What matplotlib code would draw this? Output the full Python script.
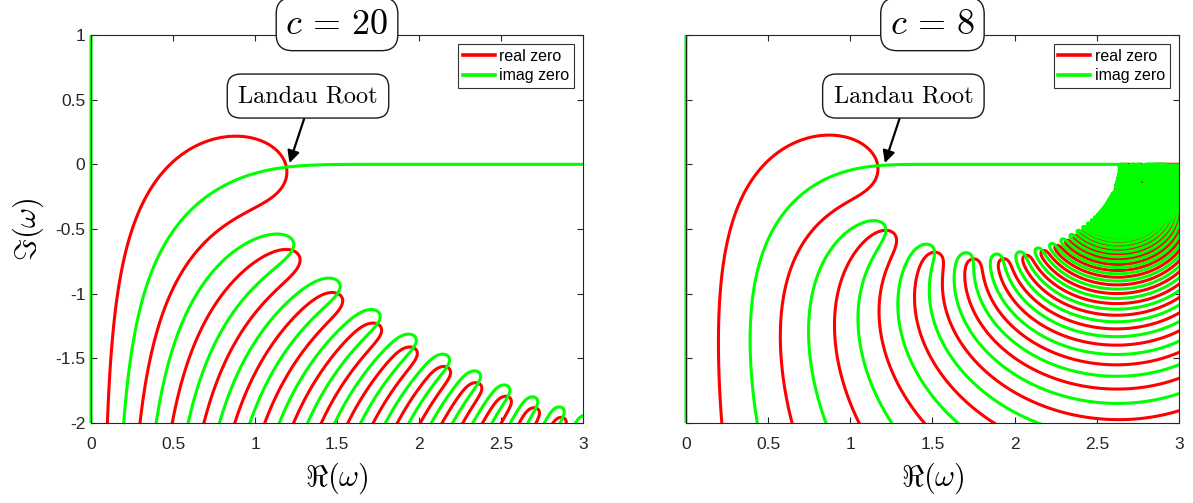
"""
Zero contours of the relativistic Langmuir-wave dispersion function D(omega)
for a Maxwellian in momentum, for two values of the speed of light c
(in thermal-speed units).
"""

import numpy as np
import matplotlib
matplotlib.use("Agg")
import matplotlib.pyplot as plt
from matplotlib.lines import Line2D
from matplotlib.transforms import Bbox, TransformedBbox

# ---- chart parameters -------------------------------------------------
c_values = [20, 8]
panel_titles = [r'$c\,=\,20$', r'$c\,=\,8$']
k_wave = 0.33                     # wavenumber k*lambda_D
re_limits = [0, 3]
im_limits = [-2, 1]
x_ticks = [0, 0.5, 1, 1.5, 2, 2.5, 3]
x_tick_labels = ['0', '0.5', '1', '1.5', '2', '2.5', '3']
y_ticks = [-2, -1.5, -1, -0.5, 0, 0.5, 1]
y_tick_labels = ['-2', '-1.5', '-1', '-0.5', '0', '0.5', '1']
legend_labels = ['real zero', 'imag zero']
root_label = 'Landau Root'
root_xy = (1.21, 0.01)
root_box_xy = (1.323, 0.528)

plt.rcParams['mathtext.fontset'] = 'cm'
plt.rcParams['axes.unicode_minus'] = False
plt.rcParams['font.family'] = ['Liberation Sans', 'DejaVu Sans']


def momentum_maxwellian_dF(u, c):
    """dF/dv for F(v) = exp(-gamma^2 v^2 / 2)/sqrt(2 pi), continued to complex v."""
    u = np.asarray(u, dtype=complex)
    g2 = 1.0 / (1 - u**2 / c**2)
    expo = -0.5 * u**2 * g2
    expo = np.minimum(expo.real, 600) + 1j * expo.imag
    return -u * g2**2 * np.exp(expo) / np.sqrt(2 * np.pi)


def dispersion(c, k, W, n_nodes=500, chunk=4000):
    """Landau-continued D(omega) on the complex grid W."""
    a = min(c, 12.0)
    t, wt = np.polynomial.legendre.leggauss(n_nodes)
    v = a * t
    w = a * wt
    g2_v = 1.0 / (1 - v**2 / c**2)
    f_v = np.exp(-0.5 * v**2 * g2_v) / np.sqrt(2 * np.pi)
    norm = 1.0 / np.sum(w * g2_v**1.5 * f_v)      # int F dp = 1
    dF_v = -norm * v * g2_v**2 * f_v

    u_all = (W / k).ravel()
    out = np.empty(u_all.shape, dtype=complex)
    with np.errstate(all='ignore'):
        for s in range(0, u_all.size, chunk):
            u = u_all[s:s + chunk]
            R = 1.0 / (v[None, :] - u[:, None])
            S0 = R @ (w * dF_v)
            S1 = R @ w
            dFu = norm * momentum_maxwellian_dF(u, c)
            lower = u.imag < 0
            near = (np.abs(u.imag) < 1.0) & (np.abs(u.real) < a - 1.5)
            I = S0.copy()
            I[lower] = S0[lower] + 2j * np.pi * dFu[lower]
            log_term = np.log((a - u) / (a + u)) + 1j * np.pi
            I[near] = S0[near] + dFu[near] * (log_term[near] - S1[near])
            out[s:s + chunk] = I
    D = 1 - out / k**2
    return D.reshape(W.shape)


# complex frequency grid (slightly beyond the axes so edge lines close)
xs = np.linspace(re_limits[0] - 0.03, re_limits[1] + 0.03, 560)
ys = np.linspace(im_limits[0] - 0.03, im_limits[1] + 0.03, 561)
X, Y = np.meshgrid(xs, ys)
W = X + 1j * Y

fig = plt.figure(figsize=(11.93, 5.03), dpi=100)
ax_pos = [[0.0763, 0.159, 0.4124, 0.7714], [0.575, 0.159, 0.4132, 0.7714]]

for i, c in enumerate(c_values):
    ax = fig.add_axes(ax_pos[i])
    D = dispersion(c, k_wave, W)
    with np.errstate(all='ignore'):
        mag = 1 + np.abs(D)
        re_part = np.where(np.isfinite(mag), D.real / mag, np.nan)
        im_part = np.where(np.isfinite(mag), D.imag / mag, np.nan)
    cs_re = ax.contour(X, Y, re_part, levels=[0], colors=[(1, 0, 0)],
                       linewidths=2.2)
    cs_im = ax.contour(X, Y, im_part, levels=[0], colors=[(0, 1, 0)],
                       linewidths=2.2)
    # let the line on the left edge (Re w = 0) show at full width
    clip = TransformedBbox(Bbox([[-0.006, 0.0], [1.0, 1.0]]), ax.transAxes)
    for cs in (cs_re, cs_im):
        cs.set_clip_path(None)
        cs.set_clip_box(clip)

    ax.set_xlim(re_limits)
    ax.set_ylim(im_limits)
    ax.set_xticks(x_ticks)
    ax.set_xticklabels(x_tick_labels)
    ax.set_yticks(y_ticks)
    if i == 0:
        ax.set_yticklabels(y_tick_labels)
        ax.set_ylabel(r'$\Im(\omega)$', fontsize=22, labelpad=7)
    else:
        ax.set_yticklabels([])
    ax.set_xlabel(r'$\Re(\omega)$', fontsize=22, labelpad=6)
    ax.tick_params(direction='in', top=True, right=True, length=4,
                   width=0.8, labelsize=12.5, colors='0.15', pad=10)
    ax.tick_params(axis='y', pad=4)
    for sp in ax.spines.values():
        sp.set_color('0.15')
        sp.set_linewidth(0.8)

    # title in a rounded box sitting on the top spine
    ax.text(0.5, 1.028, panel_titles[i], transform=ax.transAxes,
            ha='center', va='center', fontsize=26, zorder=10,
            bbox=dict(boxstyle='round,pad=0.25,rounding_size=0.45',
                      fc='white', ec='0.1', lw=1.0))

    ax.annotate(root_label, xy=root_xy, xytext=root_box_xy,
                textcoords='data', ha='center', va='center',
                fontsize=17.5, family='cmr10', zorder=10,
                bbox=dict(boxstyle='round,pad=0.45,rounding_size=0.55',
                          fc='white', ec='0.1', lw=1.0),
                arrowprops=dict(arrowstyle='-|>', color='k', lw=1.6,
                                mutation_scale=18, relpos=(0.5, 0.0),
                                shrinkA=0, shrinkB=0))

    handles = [Line2D([], [], color=(1, 0, 0), lw=2.6),
               Line2D([], [], color=(0, 1, 0), lw=2.6)]
    leg = ax.legend(handles, legend_labels, loc='upper right', fontsize=11.5,
                    frameon=True, fancybox=False, framealpha=1,
                    edgecolor='0.2', borderaxespad=0.55, handlelength=2.0,
                    handletextpad=0.3, labelspacing=0.3, borderpad=0.3)
    leg.get_frame().set_linewidth(0.8)
    leg.set_zorder(11)

fig.savefig('out.png', dpi=100)
